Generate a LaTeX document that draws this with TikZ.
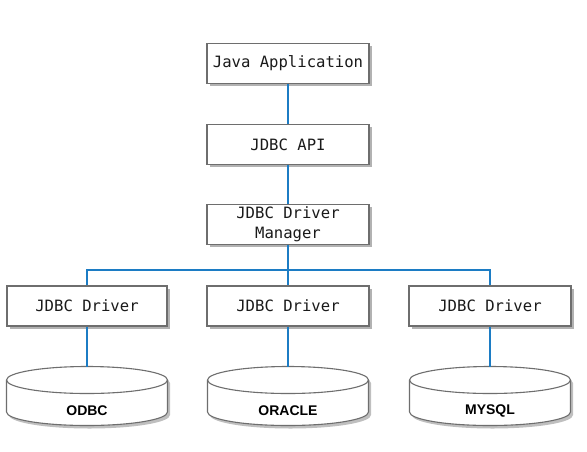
\documentclass[tikz,border=0pt]{standalone}
\usepackage{fontspec}
\setmonofont{DejaVu Sans Mono}
\newfontfamily\dbfont{Liberation Sans}
\usetikzlibrary{shadows}
\definecolor{linkblue}{HTML}{1C7CC4}
\definecolor{boxgray}{HTML}{6E6E6E}
\definecolor{txtgray}{HTML}{1A1A1A}
\begin{document}
\begin{tikzpicture}[x=1pt,y=-1pt,
  box/.style={draw=boxgray, line width=1.1pt, fill=white, rectangle,
    minimum width=162pt, minimum height=40pt, inner sep=0pt, align=center,
    text=txtgray, font=\fontsize{15.6}{20}\selectfont\ttfamily,
    drop shadow={shadow xshift=2.5pt, shadow yshift=-2.5pt, fill=black, opacity=0.3}},
  link/.style={draw=linkblue, line width=2pt},
  dblabel/.style={font=\fontsize{14}{16}\selectfont\bfseries\dbfont, inner sep=0pt, text=black},
  cylline/.style={draw=boxgray, line width=1.1pt, fill=white},
  cylshadow/.style={fill=black, opacity=0.25}
]
\useasboundingbox[fill=white] (0,0) rectangle (587,451);

% boxes
\node[box] (app) at (288,63.5) {Java Application};
\node[box] (api) at (288,144.5) {JDBC API};
\node[box] (mgr) at (288,224.5) {JDBC Driver\\Manager};
\node[box, minimum width=160pt] (drv1) at (87,306) {JDBC Driver};
\node[box] (drv2) at (288,306) {JDBC Driver};
\node[box] (drv3) at (490,306) {JDBC Driver};

% databases
\foreach \cx/\nm/\lab in {87/odbc/ODBC, 288/oracle/ORACLE, 490/mysql/MYSQL}{
  \begin{scope}[shift={(\cx,380)}]
    \path[cylshadow] (-78,3) -- (-78,35) arc[start angle=180,end angle=360,x radius=80.5pt,y radius=13.5pt]
      -- (83,3) arc[start angle=0,end angle=180,x radius=80.5pt,y radius=13.5pt] -- cycle;
    \path[cylline] (-80.5,0) -- (-80.5,32) arc[start angle=180,end angle=360,x radius=80.5pt,y radius=13.5pt]
      -- (80.5,0) arc[start angle=0,end angle=180,x radius=80.5pt,y radius=13.5pt] -- cycle;
    \draw[boxgray, line width=1.1pt] (-80.5,0) arc[start angle=180,end angle=360,x radius=80.5pt,y radius=13.5pt];
  \end{scope}
  \coordinate (\nm) at (\cx,366.5);
  \node[dblabel] (\nm label) at (\cx,411) {\lab};
}

% connectors
\coordinate (busL) at (87,270);
\coordinate (busR) at (490,270);
\coordinate (busM) at (288,270);
\draw[link] (app.south) -- (api.north);
\draw[link] (api.south) -- (mgr.north);
\draw[link] (mgr.south) -- (busM);
\draw[link] (drv1.north) -- (busL) -- (busR) -- (drv3.north);
\draw[link] (busM) -- (drv2.north);
\draw[link] (drv1.south) -- (odbc);
\draw[link] (drv2.south) -- (oracle);
\draw[link] (drv3.south) -- (mysql);
\end{tikzpicture}
\end{document}
